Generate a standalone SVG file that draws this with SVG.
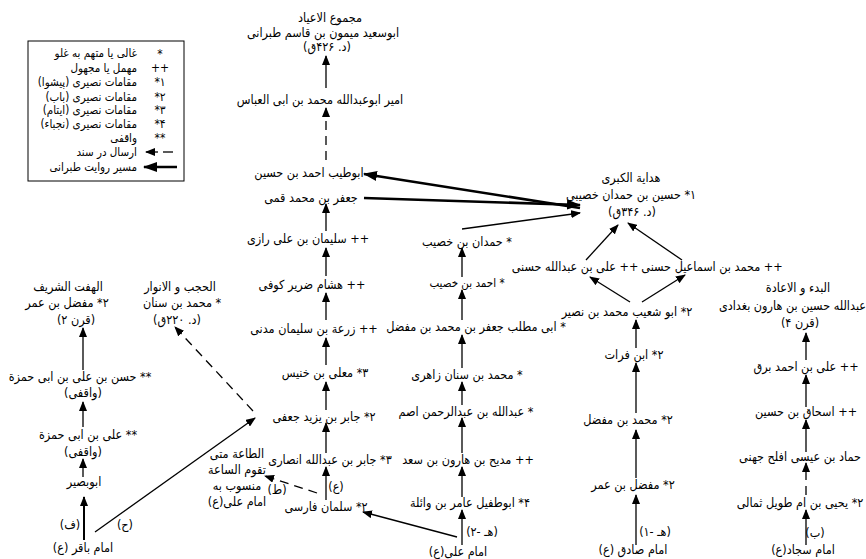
<svg xmlns="http://www.w3.org/2000/svg" width="866" height="559" viewBox="0 0 866 559">
<style>
text { font-family: "DejaVu Sans Condensed", "DejaVu Sans", sans-serif; font-size: 12.5px; fill: #000; direction: rtl; text-anchor: middle; }
.s { font-size: 11.5px; }
.lg { text-anchor: start; font-size: 11.5px; }
.sym { font-size: 12px; }
.c line { stroke: #000; stroke-width: 1.3; fill: none; }
.c .th { stroke-width: 2.6; }
.c .ds { stroke-dasharray: 9 6; }
</style>
<defs>
<marker id="a" markerUnits="userSpaceOnUse" markerWidth="10" markerHeight="8" refX="9" refY="4" orient="auto">
<path d="M0,0 L10,4 L0,8 Z" fill="#000"/>
</marker>
<marker id="b" markerUnits="userSpaceOnUse" markerWidth="14" markerHeight="10" refX="13" refY="5" orient="auto">
<path d="M0,0 L14,5 L0,10 Z" fill="#000"/>
</marker>
</defs>
<rect width="866" height="559" fill="#fff"/>

<g id="legend">
<rect x="28" y="41" width="156" height="140" fill="#fff" stroke="#000" stroke-width="1"/>
<text class="lg" x="137" y="57">غالی یا متهم به غلو</text>
<text class="lg" x="137" y="72">مهمل یا مجهول</text>
<text class="lg" x="137" y="86">مقامات نصیری (پیشوا)</text>
<text class="lg" x="137" y="101">مقامات نصیری (باب)</text>
<text class="lg" x="137" y="114">مقامات نصیری (ایتام)</text>
<text class="lg" x="137" y="128">مقامات نصیری (نجباء)</text>
<text class="lg" x="137" y="142">واقفی</text>
<text class="lg" x="137" y="156">ارسال در سند</text>
<text class="lg" x="137" y="171">مسیر روایت طبرانی</text>
<text class="sym" x="160" y="58">*</text>
<text class="sym" x="160" y="72">++</text>
<text class="sym" x="160" y="86">۱*</text>
<text class="sym" x="160" y="101">۲*</text>
<text class="sym" x="160" y="114">۳*</text>
<text class="sym" x="160" y="128">۴*</text>
<text class="sym" x="160" y="142">**</text>
<line x1="173" y1="152" x2="163" y2="152" stroke="#000" stroke-width="1.3"/>
<line x1="158" y1="152" x2="146" y2="152" stroke="#000" stroke-width="1.3" marker-end="url(#a)"/>
<line x1="177" y1="167" x2="144" y2="167" stroke="#000" stroke-width="2.6" marker-end="url(#b)"/>
</g>

<g id="n-tabarani">
<text x="330" y="22">مجموع الاعیاد</text>
<text x="323" y="37">ابوسعید میمون بن قاسم طبرانی</text>
<text x="327" y="51">(د. ۴۲۶ق)</text>
</g>
<g id="n-amir"><text x="320" y="104">امیر ابوعبدالله محمد بن ابی العباس</text></g>
<g id="n-abutayyib"><text x="309" y="177">ابوطیب احمد بن حسین</text></g>
<g id="n-jafar"><text x="311" y="202">جعفر بن محمد قمی</text></g>
<g id="n-sulayman"><text x="308" y="243">++ سلیمان بن علی رازی</text></g>
<g id="n-hisham"><text x="312" y="289">++ هشام ضریر کوفی</text></g>
<g id="n-zura"><text x="314" y="333">++ زرعة بن سلیمان مدنی</text></g>
<g id="n-mualla"><text x="325" y="377">۳* معلی بن خنیس</text></g>
<g id="n-jabirjufi"><text x="324" y="421">۲* جابر بن یزید جعفی</text></g>
<g id="n-jabiransari"><text x="330" y="464">۳* جابر بن عبدالله انصاری</text></g>
<g id="n-salman"><text x="326" y="511">۲* سلمان فارسی</text></g>
<g id="n-taa">
<text x="237" y="458">الطاعة متی</text>
<text x="237" y="474">تقوم الساعة</text>
<text x="237" y="490">منسوب به</text>
<text x="237" y="506">امام علی(ع)</text>
</g>
<g id="n-hejab">
<text x="180" y="291">الحجب و الانوار</text>
<text x="182" y="307">* محمد بن سنان</text>
<text x="177" y="324">(د. ۲۲۰ق)</text>
</g>
<g id="n-haft">
<text x="68" y="291">الهفت الشریف</text>
<text x="67" y="307">۲* مفضل بن عمر</text>
<text x="76" y="324">(قرن ۲)</text>
</g>
<g id="n-hasan">
<text x="80" y="381">** حسن بن علی بن ابی حمزة</text>
<text x="83" y="397">(واقفی)</text>
</g>
<g id="n-ali-hamza">
<text x="88" y="439">** علی بن ابی حمزة</text>
<text x="83" y="456">(واقفی)</text>
</g>
<g id="n-abubasir"><text x="84" y="486">ابوبصیر</text></g>
<g id="n-baqir"><text x="83" y="552">امام باقر (ع)</text></g>

<g id="n-hedaya">
<text x="631" y="182">هدایة الکبری</text>
<text x="631" y="199">۱* حسین بن حمدان خصیبی</text>
<text x="632" y="216">(د. ۳۴۶ق)</text>
</g>
<g id="n-hamdan"><text x="467" y="246">* حمدان بن خصیب</text></g>
<g id="n-ahmad"><text class="s" x="467" y="287">* احمد بن خصیب</text></g>
<g id="n-abimutallib"><text x="476" y="331">* ابی مطلب جعفر بن محمد بن مفضل</text></g>
<g id="n-zahiri"><text x="467" y="379">* محمد بن سنان زاهری</text></g>
<g id="n-asamm"><text x="466" y="416">* عبدالله بن عبدالرحمن اصم</text></g>
<g id="n-madih"><text x="468" y="464">++ مدیح بن هارون بن سعد</text></g>
<g id="n-abutufayl"><text x="470" y="507">۴* ابوطفیل عامر بن وائلة</text></g>
<g id="n-ali"><text x="458" y="556">امام علی(ع)</text></g>

<g id="n-alihasani"><text x="575" y="271">++ علی بن عبدالله حسنی</text></g>
<g id="n-ismail"><text x="712" y="271">++ محمد بن اسماعیل حسنی</text></g>
<g id="n-abushuayb"><text x="627" y="316">۲* ابو شعیب محمد بن نصیر</text></g>
<g id="n-ibnfurat"><text x="634" y="359">۲* ابن فرات</text></g>
<g id="n-mmufaddal"><text x="628" y="424">۲* محمد بن مفضل</text></g>
<g id="n-mufaddal"><text x="633" y="489">۲* مفضل بن عمر</text></g>
<g id="n-sadiq"><text x="633" y="554">امام صادق (ع)</text></g>

<g id="n-bad">
<text x="798" y="292">البدء و الاعادة</text>
<text style="text-anchor:start" x="866" y="310">عبدالله حسین بن هارون بغدادی</text>
<text x="800" y="327">(قرن ۴)</text>
</g>
<g id="n-barqi"><text x="806" y="371">++ علی بن احمد برق</text></g>
<g id="n-ishaq"><text x="806" y="416">++ اسحاق بن حسین</text></g>
<g id="n-hammad"><text x="800" y="461">حماد بن عیسی افلح جهنی</text></g>
<g id="n-yahya"><text x="800" y="507">۲* یحیی بن ام طویل ثمالی</text></g>
<g id="n-sajjad"><text x="803" y="554">امام سجاد(ع)</text></g>

<g id="labels">
<text x="336" y="491">(ع)</text>
<text x="277" y="494">(ط)</text>
<text x="70" y="529">(ف)</text>
<text x="125" y="529">(ح)</text>
<text x="482" y="536">(هـ -۲)</text>
<text x="655" y="536">(هـ -۱)</text>
<text x="815" y="537">(ب)</text>
</g>

<g class="c" id="connectors">
<line x1="326" y1="88" x2="326" y2="56" marker-end="url(#a)"/>
<line class="ds" x1="326" y1="160" x2="326" y2="108" marker-end="url(#a)"/>
<line class="th" x1="580" y1="208" x2="364" y2="174" marker-end="url(#b)"/>
<line class="th" x1="364" y1="198" x2="580" y2="205" marker-end="url(#b)"/>
<line x1="462" y1="229" x2="580" y2="213" marker-end="url(#a)"/>
<line x1="326" y1="231" x2="326" y2="204" marker-end="url(#a)"/>
<line x1="326" y1="276" x2="326" y2="248" marker-end="url(#a)"/>
<line x1="326" y1="320" x2="326" y2="293" marker-end="url(#a)"/>
<line x1="326" y1="365" x2="326" y2="338" marker-end="url(#a)"/>
<line x1="326" y1="410" x2="326" y2="382" marker-end="url(#a)"/>
<line x1="326" y1="453" x2="326" y2="423" marker-end="url(#a)"/>
<line x1="326" y1="500" x2="326" y2="467" marker-end="url(#a)"/>
<line x1="457" y1="537" x2="363" y2="512" marker-end="url(#a)"/>
<line class="ds" x1="317" y1="493" x2="265" y2="476" marker-end="url(#a)"/>
<line x1="95" y1="532" x2="255" y2="418" marker-end="url(#a)"/>
<line class="ds" x1="253" y1="411" x2="175" y2="327" marker-end="url(#a)"/>
<line x1="84" y1="540" x2="84" y2="497" marker-end="url(#a)" style="stroke-width:2"/>
<line x1="83" y1="477" x2="83" y2="459" marker-end="url(#a)"/>
<line x1="83" y1="427" x2="83" y2="402" marker-end="url(#a)"/>
<line x1="83" y1="370" x2="83" y2="328" marker-end="url(#a)"/>
<line x1="462" y1="545" x2="462" y2="510" marker-end="url(#a)"/>
<line x1="462" y1="497" x2="462" y2="467" marker-end="url(#a)"/>
<line x1="462" y1="453" x2="462" y2="418" marker-end="url(#a)"/>
<line x1="462" y1="405" x2="462" y2="382" marker-end="url(#a)"/>
<line x1="462" y1="368" x2="462" y2="335" marker-end="url(#a)"/>
<line x1="462" y1="320" x2="462" y2="290" marker-end="url(#a)"/>
<line x1="462" y1="277" x2="462" y2="248" marker-end="url(#a)"/>
<line x1="636" y1="545" x2="636" y2="495" marker-end="url(#a)"/>
<line x1="636" y1="478" x2="636" y2="430" marker-end="url(#a)"/>
<line x1="636" y1="413" x2="636" y2="363" marker-end="url(#a)"/>
<line x1="636" y1="348" x2="636" y2="320" marker-end="url(#a)"/>
<line x1="630" y1="302" x2="590" y2="277" marker-end="url(#a)"/>
<line x1="642" y1="302" x2="685" y2="275" marker-end="url(#a)"/>
<line x1="586" y1="260" x2="618" y2="225" marker-end="url(#a)"/>
<line x1="682" y1="260" x2="628" y2="223" marker-end="url(#a)"/>
<line x1="806" y1="545" x2="806" y2="510" marker-end="url(#a)"/>
<line class="ds" x1="806" y1="495" x2="806" y2="463" marker-end="url(#a)"/>
<line x1="806" y1="452" x2="806" y2="420" marker-end="url(#a)"/>
<line x1="806" y1="407" x2="806" y2="375" marker-end="url(#a)"/>
<line x1="806" y1="360" x2="806" y2="333" marker-end="url(#a)"/>
</g>
</svg>
